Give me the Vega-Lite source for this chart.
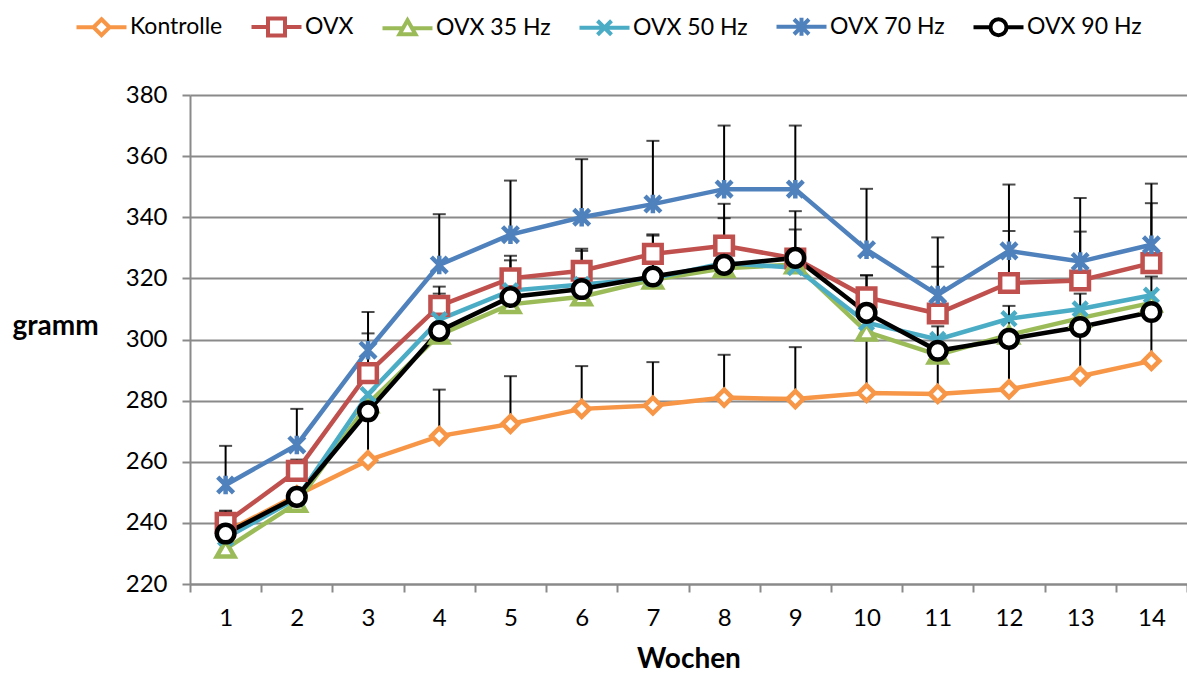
{
  "$schema": "https://vega.github.io/schema/vega-lite/v6.json",
  "width": 997,
  "height": 489,
  "autosize": {"type": "none"},
  "padding": {"left": 190, "top": 95, "right": 0, "bottom": 90},
  "background": "white",
  "config": {"view": {"stroke": null}, "font": "Lato"},
  "data": {"values": [
    {"week": 1, "group": "Kontrolle", "value": 237, "upper": null},
    {"week": 2, "group": "Kontrolle", "value": 249, "upper": null},
    {"week": 3, "group": "Kontrolle", "value": 260.5, "upper": 276},
    {"week": 4, "group": "Kontrolle", "value": 268.4, "upper": 283.6},
    {"week": 5, "group": "Kontrolle", "value": 272.4, "upper": 288},
    {"week": 6, "group": "Kontrolle", "value": 277.3, "upper": 291.3},
    {"week": 7, "group": "Kontrolle", "value": 278.4, "upper": 292.6},
    {"week": 8, "group": "Kontrolle", "value": 281, "upper": 295},
    {"week": 9, "group": "Kontrolle", "value": 280.5, "upper": 297.5},
    {"week": 10, "group": "Kontrolle", "value": 282.5, "upper": 300.8},
    {"week": 11, "group": "Kontrolle", "value": 282.2, "upper": 296},
    {"week": 12, "group": "Kontrolle", "value": 283.7, "upper": 300},
    {"week": 13, "group": "Kontrolle", "value": 288, "upper": 304},
    {"week": 14, "group": "Kontrolle", "value": 293, "upper": 309},
    {"week": 1, "group": "OVX", "value": 240, "upper": 243.7},
    {"week": 2, "group": "OVX", "value": 257, "upper": 260.7},
    {"week": 3, "group": "OVX", "value": 289, "upper": 302},
    {"week": 4, "group": "OVX", "value": 311, "upper": 317.3},
    {"week": 5, "group": "OVX", "value": 320, "upper": 327.4},
    {"week": 6, "group": "OVX", "value": 322.5, "upper": 329.7},
    {"week": 7, "group": "OVX", "value": 328, "upper": 334.4},
    {"week": 8, "group": "OVX", "value": 330.7, "upper": 344.4},
    {"week": 9, "group": "OVX", "value": 326.5, "upper": 336},
    {"week": 10, "group": "OVX", "value": 313.8, "upper": 321},
    {"week": 11, "group": "OVX", "value": 308.5, "upper": 323.8},
    {"week": 12, "group": "OVX", "value": 318.5, "upper": 335.5},
    {"week": 13, "group": "OVX", "value": 319.3, "upper": 335.3},
    {"week": 14, "group": "OVX", "value": 325, "upper": 344.6},
    {"week": 1, "group": "OVX 35 Hz", "value": 231.5, "upper": null},
    {"week": 2, "group": "OVX 35 Hz", "value": 246.5, "upper": null},
    {"week": 3, "group": "OVX 35 Hz", "value": 279, "upper": null},
    {"week": 4, "group": "OVX 35 Hz", "value": 301.5, "upper": null},
    {"week": 5, "group": "OVX 35 Hz", "value": 311.5, "upper": null},
    {"week": 6, "group": "OVX 35 Hz", "value": 314, "upper": null},
    {"week": 7, "group": "OVX 35 Hz", "value": 319.5, "upper": null},
    {"week": 8, "group": "OVX 35 Hz", "value": 323.3, "upper": null},
    {"week": 9, "group": "OVX 35 Hz", "value": 324.5, "upper": null},
    {"week": 10, "group": "OVX 35 Hz", "value": 302.5, "upper": null},
    {"week": 11, "group": "OVX 35 Hz", "value": 295, "upper": null},
    {"week": 12, "group": "OVX 35 Hz", "value": 301.5, "upper": null},
    {"week": 13, "group": "OVX 35 Hz", "value": 307, "upper": null},
    {"week": 14, "group": "OVX 35 Hz", "value": 312, "upper": null},
    {"week": 1, "group": "OVX 50 Hz", "value": 235, "upper": null},
    {"week": 2, "group": "OVX 50 Hz", "value": 248, "upper": null},
    {"week": 3, "group": "OVX 50 Hz", "value": 282, "upper": null},
    {"week": 4, "group": "OVX 50 Hz", "value": 306.5, "upper": null},
    {"week": 5, "group": "OVX 50 Hz", "value": 316, "upper": null},
    {"week": 6, "group": "OVX 50 Hz", "value": 318, "upper": null},
    {"week": 7, "group": "OVX 50 Hz", "value": 320, "upper": null},
    {"week": 8, "group": "OVX 50 Hz", "value": 325, "upper": null},
    {"week": 9, "group": "OVX 50 Hz", "value": 323.5, "upper": null},
    {"week": 10, "group": "OVX 50 Hz", "value": 305.5, "upper": null},
    {"week": 11, "group": "OVX 50 Hz", "value": 300, "upper": null},
    {"week": 12, "group": "OVX 50 Hz", "value": 306.8, "upper": null},
    {"week": 13, "group": "OVX 50 Hz", "value": 310, "upper": null},
    {"week": 14, "group": "OVX 50 Hz", "value": 314.5, "upper": null},
    {"week": 1, "group": "OVX 70 Hz", "value": 252.4, "upper": 265.2},
    {"week": 2, "group": "OVX 70 Hz", "value": 265.5, "upper": 277.3},
    {"week": 3, "group": "OVX 70 Hz", "value": 296.5, "upper": 309},
    {"week": 4, "group": "OVX 70 Hz", "value": 324.4, "upper": 341},
    {"week": 5, "group": "OVX 70 Hz", "value": 334.3, "upper": 352},
    {"week": 6, "group": "OVX 70 Hz", "value": 340, "upper": 359},
    {"week": 7, "group": "OVX 70 Hz", "value": 344.3, "upper": 365},
    {"week": 8, "group": "OVX 70 Hz", "value": 349.2, "upper": 370},
    {"week": 9, "group": "OVX 70 Hz", "value": 349.2, "upper": 370},
    {"week": 10, "group": "OVX 70 Hz", "value": 329.4, "upper": 349.3},
    {"week": 11, "group": "OVX 70 Hz", "value": 314.6, "upper": 333.4},
    {"week": 12, "group": "OVX 70 Hz", "value": 329, "upper": 350.7},
    {"week": 13, "group": "OVX 70 Hz", "value": 325.5, "upper": 346.3},
    {"week": 14, "group": "OVX 70 Hz", "value": 331, "upper": 351},
    {"week": 1, "group": "OVX 90 Hz", "value": 236.5, "upper": 244},
    {"week": 2, "group": "OVX 90 Hz", "value": 248.5, "upper": 251},
    {"week": 3, "group": "OVX 90 Hz", "value": 276.5, "upper": 280},
    {"week": 4, "group": "OVX 90 Hz", "value": 302.8, "upper": 315},
    {"week": 5, "group": "OVX 90 Hz", "value": 313.9, "upper": 325.9},
    {"week": 6, "group": "OVX 90 Hz", "value": 316.5, "upper": 329},
    {"week": 7, "group": "OVX 90 Hz", "value": 320.6, "upper": 334},
    {"week": 8, "group": "OVX 90 Hz", "value": 324.4, "upper": 339.7},
    {"week": 9, "group": "OVX 90 Hz", "value": 326.7, "upper": 342},
    {"week": 10, "group": "OVX 90 Hz", "value": 308.7, "upper": 321},
    {"week": 11, "group": "OVX 90 Hz", "value": 296.3, "upper": 304.3},
    {"week": 12, "group": "OVX 90 Hz", "value": 300.2, "upper": 311},
    {"week": 13, "group": "OVX 90 Hz", "value": 304.1, "upper": 315},
    {"week": 14, "group": "OVX 90 Hz", "value": 309, "upper": 320.6}
  ]},
  "encoding": {
    "x": {
      "field": "week", "type": "ordinal",
      "scale": {"paddingInner": 0, "paddingOuter": 0},
      "axis": {
        "title": "Wochen", "labelAngle": 0, "tickBand": "extent", "grid": false,
        "domainColor": "#8a8a8a", "domainWidth": 2, "tickColor": "#8a8a8a", "tickWidth": 2, "tickSize": 8,
        "labelFontSize": 24, "labelColor": "#000000", "labelPadding": 14,
        "titleFontSize": 28, "titleFontWeight": "bold", "titleColor": "#000000", "titlePadding": 15
      }
    },
    "y": {
      "field": "value", "type": "quantitative",
      "scale": {"domain": [220, 380], "zero": false, "nice": false},
      "axis": {
        "title": "gramm", "values": [220, 240, 260, 280, 300, 320, 340, 360, 380],
        "grid": true, "gridColor": "#8a8a8a", "gridWidth": 2,
        "domainColor": "#8a8a8a", "domainWidth": 2, "tickColor": "#8a8a8a", "tickWidth": 2, "tickSize": 8,
        "labelFontSize": 24, "labelColor": "#000000", "labelPadding": 15,
        "titleAngle": 0, "titleAlign": "left", "titleBaseline": "middle", "titleX": -178, "titleY": 231,
        "titleFontSize": 28, "titleFontWeight": "bold", "titleColor": "#000000"
      }
    }
  },
  "layer": [
    {
      "transform": [{"filter": "datum.upper != null"}],
      "mark": {"type": "rule", "color": "#000000", "strokeWidth": 2},
      "encoding": {"y2": {"field": "upper"}}
    },
    {
      "transform": [{"filter": "datum.upper != null"}],
      "mark": {"type": "tick", "color": "#000000", "thickness": 2, "size": 13},
      "encoding": {"y": {"field": "upper", "type": "quantitative"}}
    },
    {
      "mark": {"type": "line", "strokeWidth": 4.5},
      "encoding": {
        "color": {
          "field": "group", "type": "nominal",
          "scale": {"domain": ["Kontrolle", "OVX", "OVX 35 Hz", "OVX 50 Hz", "OVX 70 Hz", "OVX 90 Hz"],
                    "range": ["#F79646", "#C0504D", "#9BBB59", "#4BACC6", "#4F81BD", "#000000"]},
          "legend": null
        }
      }
    },
    {
      "mark": {"type": "point", "fill": "#ffffff", "fillOpacity": 1, "opacity": 1, "strokeWidth": 4.5, "size": 310},
      "encoding": {
        "stroke": {
          "field": "group", "type": "nominal",
          "scale": {"domain": ["Kontrolle", "OVX", "OVX 35 Hz", "OVX 50 Hz", "OVX 70 Hz", "OVX 90 Hz"],
                    "range": ["#F79646", "#C0504D", "#9BBB59", "#4BACC6", "#4F81BD", "#000000"]},
          "legend": null
        },
        "shape": {
          "field": "group", "type": "nominal",
          "scale": {"domain": ["Kontrolle", "OVX", "OVX 35 Hz", "OVX 50 Hz", "OVX 70 Hz", "OVX 90 Hz"],
                    "range": ["M0,-0.9L0.9,0L0,0.9L-0.9,0Z", "square", "triangle-up", "M-0.8,-0.8L0.8,0.8M-0.8,0.8L0.8,-0.8", "M-0.9,-0.9L0.9,0.9M-0.9,0.9L0.9,-0.9M0,-1.05L0,1.05", "circle"]},
          "legend": null
        }
      }
    },
    {
      "transform": [{"filter": "datum.value < 0"}],
      "mark": {"type": "point", "fill": "#ffffff", "fillOpacity": 1, "strokeWidth": 4, "size": 100},
      "encoding": {
        "stroke": {
          "field": "group", "type": "nominal",
          "scale": {"domain": ["Kontrolle", "OVX", "OVX 35 Hz", "OVX 50 Hz", "OVX 70 Hz", "OVX 90 Hz"],
                    "range": ["#F79646", "#C0504D", "#9BBB59", "#4BACC6", "#4F81BD", "#000000"]},
          "legend": {
            "orient": "none", "legendX": -100, "legendY": -80, "direction": "horizontal", "title": null,
            "symbolSize": 100, "symbolStrokeWidth": 4, "symbolFillColor": "#ffffff",
            "labelFontSize": 23, "labelColor": "#000000", "labelOffset": 17, "columnPadding": 20
          }
        },
        "shape": {
          "field": "group", "type": "nominal",
          "scale": {"domain": ["Kontrolle", "OVX", "OVX 35 Hz", "OVX 50 Hz", "OVX 70 Hz", "OVX 90 Hz"],
                    "range": [
                      "M-5,0L-1.6,0M1.6,0L5,0M0,-1.6L1.6,0L0,1.6L-1.6,0Z",
                      "M-5,0L-1.7,0M1.7,0L5,0M-1.7,-1.7L1.7,-1.7L1.7,1.7L-1.7,1.7Z",
                      "M-5,0L-0.9,0M0.9,0L5,0M0,-1.6L1.6,1.2L-1.6,1.2Z",
                      "M-5,0L5,0M-1.4,-1.4L1.4,1.4M-1.4,1.4L1.4,-1.4",
                      "M-5,0L5,0M-1.5,-1.5L1.5,1.5M-1.5,1.5L1.5,-1.5M0,-1.8L0,1.8",
                      "M-5,0L-1.6,0M1.6,0L5,0M1.6,0A1.6,1.6,0,1,1,-1.6,0A1.6,1.6,0,1,1,1.6,0Z"
                    ]},
          "legend": {
            "orient": "none", "legendX": -100, "legendY": -80, "direction": "horizontal", "title": null,
            "symbolSize": 100, "symbolStrokeWidth": 4,
            "labelFontSize": 23, "labelColor": "#000000", "labelOffset": 17, "columnPadding": 20
          }
        }
      }
    }
  ],
  "resolve": {"scale": {"shape": "independent"}, "legend": {"shape": "independent", "stroke": "independent"}}
}
